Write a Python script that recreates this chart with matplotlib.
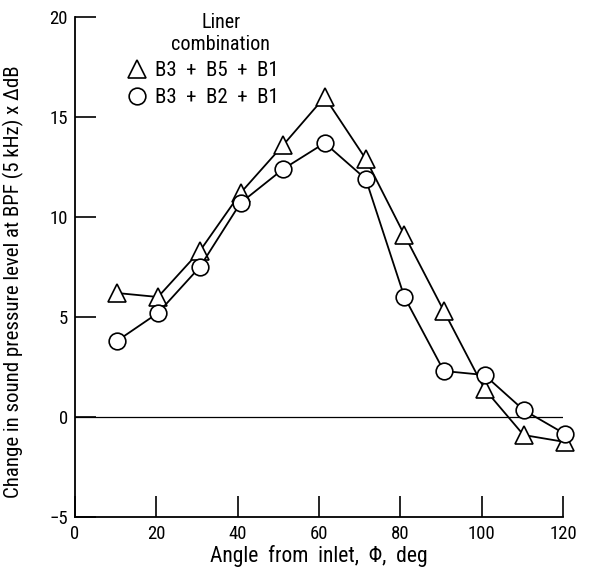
import matplotlib
matplotlib.use("Agg")
import matplotlib.pyplot as plt
from matplotlib.lines import Line2D

angles = [10.3, 20.4, 30.7, 40.7, 51.2, 61.4, 71.5, 81.0, 90.7, 100.7, 110.3, 120.5]
b3_b5_b1 = [6.2, 6.0, 8.3, 11.2, 13.6, 16.0, 12.9, 9.1, 5.3, 1.4, -0.9, -1.25]
b3_b2_b1 = [3.8, 5.2, 7.5, 10.7, 12.4, 13.7, 11.9, 6.0, 2.3, 2.1, 0.35, -0.85]
series_labels = ["B3  +  B5  +  B1", "B3  +  B2  +  B1"]
legend_title = ["Liner", "combination"]
xticks = [0, 20, 40, 60, 80, 100, 120]
yticks = [-5, 0, 5, 10, 15, 20]

plt.rcParams['font.family'] = ['Roboto Condensed', 'DejaVu Sans']

fig = plt.figure(figsize=(5.9, 5.75), dpi=100)
ax = fig.add_axes([75/590, 1-517/575, (563-75)/590, (517-17)/575])

ax.plot(angles, b3_b5_b1, color='black', lw=1.3, marker='^', ms=13,
        mfc='white', mec='black', mew=1.2, clip_on=False, zorder=3)
ax.plot(angles, b3_b2_b1, color='black', lw=1.3, marker='o', ms=12,
        mfc='white', mec='black', mew=1.2, clip_on=False, zorder=4)
ax.plot([0, 120], [0, 0], color='black', lw=0.9, zorder=1)

ax.set_xlim(0, 120)
ax.set_ylim(-5, 20)
ax.set_xticks(xticks)
ax.set_yticks(yticks)
ax.spines['top'].set_visible(False)
ax.spines['right'].set_visible(False)
ax.spines['left'].set_linewidth(1.3)
ax.spines['bottom'].set_linewidth(1.3)
ax.tick_params(axis='both', direction='in', length=15, width=1.2,
               labelsize=13.5)
ax.tick_params(axis='x', pad=6)
ax.tick_params(axis='y', pad=5)

ax.set_xlabel('Angle  from  inlet,  \u03a6,  deg', fontsize=15.5, labelpad=1)
ax.set_ylabel('Change in sound pressure level at BPF (5 kHz) x \u0394dB',
              fontsize=15)
ax.yaxis.set_label_coords(-0.105, 0.47)

ax.text(0.299, 0.99, legend_title[0], transform=ax.transAxes, ha='center',
        va='center', fontsize=14.5)
ax.text(0.299, 0.944, legend_title[1], transform=ax.transAxes, ha='center',
        va='center', fontsize=14.5)

handles = [Line2D([], [], ls='none', marker='^', ms=13, mfc='white', mec='black', mew=1.2),
           Line2D([], [], ls='none', marker='o', ms=12, mfc='white', mec='black', mew=1.2)]
leg = ax.legend(handles, series_labels, loc='upper left',
                bbox_to_anchor=(0.107, 0.912), frameon=False,
                fontsize=15, handlelength=0.95, handletextpad=0.4,
                labelspacing=0.38, borderpad=0, borderaxespad=0)

fig.savefig('out.png', dpi=100)
